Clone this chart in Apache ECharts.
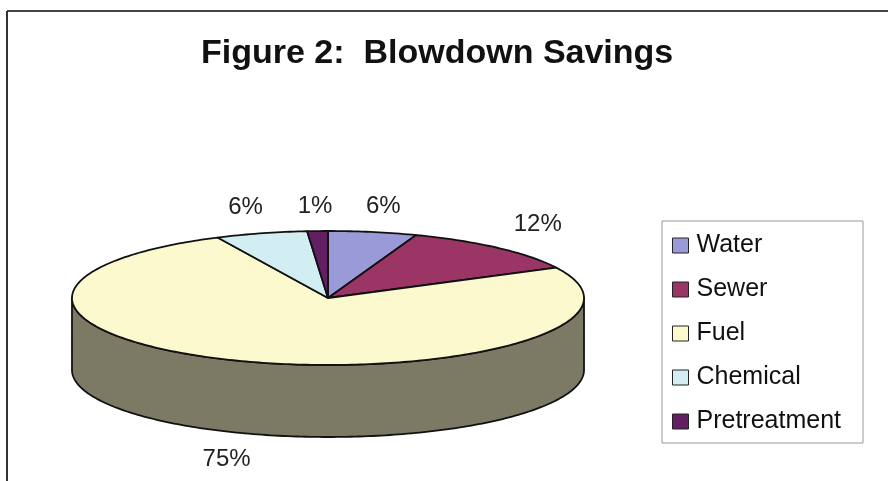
<!DOCTYPE html>
<html>
<head>
<meta charset="utf-8">
<script src="https://cdn.jsdelivr.net/npm/echarts@6/dist/echarts.min.js"></script>
<style>
html,body{margin:0;padding:0;background:#fff;}
#chart{width:888px;height:481px;}
</style>
</head>
<body>
<div id="chart"></div>
<script>
// ---- data ----
const categories = ['Water', 'Sewer', 'Fuel', 'Chemical', 'Pretreatment'];
const values = [5.6, 11.9, 75.4, 5.8, 1.3];
const titleText = 'Figure 2:  Blowdown Savings';

// ---- styles ----
const colors = ['#9b9ad8', '#9a3566', '#fdf9cf', '#d3eef3', '#621f61'];
const DEPTH = 72 / 67; // wall depth in minor-radius units

function shade(hex, f) {
  const n = parseInt(hex.slice(1), 16);
  const r = Math.round(((n >> 16) & 255) * f), g = Math.round(((n >> 8) & 255) * f), b = Math.round((n & 255) * f);
  return 'rgb(' + r + ',' + g + ',' + b + ')';
}

const total = values.reduce((a, b) => a + b, 0);
const cum = [0];
values.forEach(v => cum.push(cum[cum.length - 1] + v));

function renderSlice(i, api) {
  const a0 = cum[i] / total * Math.PI * 2;
  const a1 = cum[i + 1] / total * Math.PI * 2;
  const pt = (t, dy) => api.coord([Math.sin(t), Math.cos(t) - dy]);
  const children = [];
  // front wall
  const s = Math.max(a0, Math.PI / 2), e = Math.min(a1, Math.PI * 1.5);
  if (s < e) {
    const n = Math.max(2, Math.ceil((e - s) / (Math.PI / 180)));
    const pts = [];
    for (let k = 0; k <= n; k++) pts.push(pt(s + (e - s) * k / n, 0));
    for (let k = n; k >= 0; k--) pts.push(pt(s + (e - s) * k / n, DEPTH));
    children.push({
      type: 'polygon', shape: { points: pts },
      style: { fill: shade(colors[i], 0.49), stroke: '#111', lineWidth: 1.8, lineJoin: 'round' }
    });
  }
  // top face
  const n2 = Math.max(2, Math.ceil((a1 - a0) / (Math.PI / 180)));
  const top = [api.coord([0, 0])];
  for (let k = 0; k <= n2; k++) top.push(pt(a0 + (a1 - a0) * k / n2, 0));
  children.push({
    type: 'polygon', shape: { points: top },
    style: { fill: colors[i], stroke: '#111', lineWidth: 1.8, lineJoin: 'round' }
  });
  // label
  const mid = (a0 + a1) / 2;
  const edge = pt(mid, 0);
  const sn = Math.sin(mid), cs = Math.cos(mid);
  const lx = edge[0] + sn * 60;
  let ly = edge[1] - cs * (24 + 12 * Math.abs(sn));
  if (cs < 0) ly += (api.coord([0, -DEPTH])[1] - api.coord([0, 0])[1]);
  children.push({
    type: 'text',
    style: {
      text: Math.round(values[i] / total * 100) + '%',
      x: lx, y: ly, fill: '#222',
      font: '24px "Liberation Sans", Arial, sans-serif',
      align: 'center', verticalAlign: 'middle',
      textAlign: 'center', textVerticalAlign: 'middle'
    }
  });
  return { type: 'group', children: children };
}

const chart = echarts.init(document.getElementById('chart'), null, { renderer: 'canvas' });
chart.setOption({
  backgroundColor: '#ffffff',
  animation: false,
  title: {
    text: titleText,
    left: 201, top: 37, padding: 0,
    textStyle: { fontFamily: '"Liberation Sans", Arial, sans-serif', fontWeight: 'bold', fontSize: 34, color: '#111' }
  },
  legend: {
    orient: 'vertical',
    left: 662, top: 221, height: 240,
    padding: [12, 22, 9, 10],
    itemGap: 19, itemWidth: 16, itemHeight: 15,
    icon: 'rect',
    itemStyle: { borderColor: '#222', borderWidth: 1 },
    borderColor: '#9a9a9a', borderWidth: 1,
    textStyle: { fontFamily: '"Liberation Sans", Arial, sans-serif', fontSize: 25, color: '#111', padding: [0, 0, 0, 3] },
    data: categories
  },
  grid: { left: 72, top: 231, width: 512, height: (2 + DEPTH) * 67 },
  xAxis: { type: 'value', min: -1, max: 1, show: false },
  yAxis: { type: 'value', min: -(1 + DEPTH), max: 1, show: false },
  graphic: [
    { type: 'line', shape: { x1: 7, y1: 11, x2: 888, y2: 11 }, style: { stroke: '#444', lineWidth: 2 } },
    { type: 'line', shape: { x1: 7, y1: 11, x2: 7, y2: 481 }, style: { stroke: '#333', lineWidth: 2 } }
  ],
  series: categories.map((name, i) => ({
    type: 'custom',
    name: name,
    coordinateSystem: 'cartesian2d',
    itemStyle: { color: colors[i] },
    encode: { x: 0, y: 1 },
    data: [[0, 0]],
    renderItem: (params, api) => renderSlice(i, api)
  }))
});
</script>
</body>
</html>
